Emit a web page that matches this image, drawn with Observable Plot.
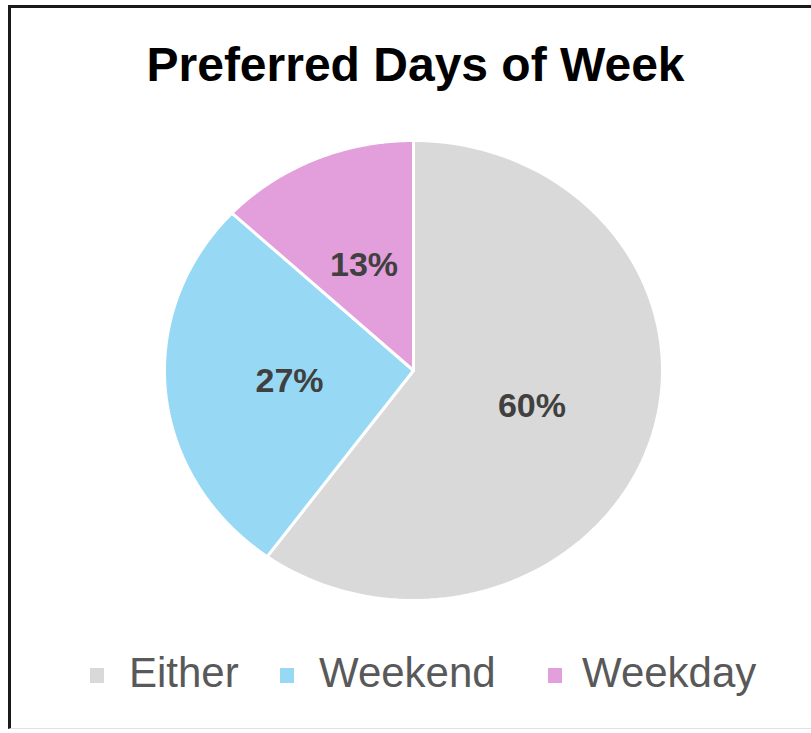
<!DOCTYPE html>
<html>
<head>
<meta charset="utf-8">
<script src="https://cdn.jsdelivr.net/npm/d3@7"></script>
<script src="https://cdn.jsdelivr.net/npm/@observablehq/plot@0.6"></script>
<style>
  html, body { margin: 0; padding: 0; background: #fff; }
  #frame { position: relative; width: 811px; height: 733px; overflow: hidden; background: #fff; }
  #border { position: absolute; left: 8px; top: 5px; right: -10px; bottom: 4px;
            border-left: 3px solid #1a1a1a; border-top: 3px solid #1a1a1a; border-bottom: 1px solid #e0e0e0; }
  #title { position: absolute; left: 0; width: 831px; top: 41px; text-align: center;
           font-family: "Liberation Sans", Arial, sans-serif; font-weight: bold; font-size: 48px;
           line-height: 48px; color: #000; }
  #chart { position: absolute; left: 0; top: 130px; }
  #legend { position: absolute; top: 651px; left: 0; width: 811px; height: 44px;
            font-family: "Liberation Sans", Arial, sans-serif; font-size: 42px; line-height: 44px; color: #595959; }
  .item { position: absolute; top: 0; white-space: nowrap; }
  .sw { position: absolute; width: 14px; height: 15px; top: 17px; }
</style>
</head>
<body>
<div id="frame">
  <div id="border"></div>
  <div id="title">Preferred Days of Week</div>
  <div id="chart"></div>
  <div id="legend"></div>
</div>
<script>
const categories = ["Either", "Weekend", "Weekday"];
const values = [60, 27, 13];
const labels = ["60%", "27%", "13%"];
const colors = ["#d9d9d9", "#97d9f4", "#e39edc"];

// Build slice polygons (clockwise from 12 o'clock)
const total = d3.sum(values);
const slicePts = [];
const labelPts = [];
let start = 0;
categories.forEach((c, i) => {
  const a0 = start / total * 2 * Math.PI;
  const a1 = (start + values[i]) / total * 2 * Math.PI;
  slicePts.push({cat: c, x: 0, y: 0});
  const n = 120;
  for (let k = 0; k <= n; k++) {
    const a = a0 + (a1 - a0) * k / n;
    slicePts.push({cat: c, x: Math.sin(a), y: Math.cos(a)});
  }
  slicePts.push({cat: c, x: 0, y: 0});
  const am = (a0 + a1) / 2;
  labelPts.push({cat: c, label: labels[i], x: 0.5 * Math.sin(am), y: 0.5 * Math.cos(am)});
  start += values[i];
});

const plot = Plot.plot({
  width: 811,
  height: 480,
  marginLeft: 164,
  marginRight: 149,
  marginTop: 10,
  marginBottom: 10,
  x: {domain: [-1, 1], axis: null},
  y: {domain: [-1, 1], axis: null},
  color: {domain: categories, range: colors},
  style: {background: "transparent"},
  marks: [
    Plot.line(slicePts, {x: "x", y: "y", z: "cat", fill: "cat", stroke: "#fff", strokeWidth: 3, strokeLinejoin: "miter"}),
    Plot.text(labelPts, {x: "x", y: "y", text: "label", fill: "#404040", fontSize: 34, fontWeight: "bold",
      fontFamily: "Liberation Sans, Arial, sans-serif"})
  ]
});
document.getElementById("chart").appendChild(plot);

// Legend
const legendPos = [[90, 129], [280, 319], [548, 582]];
const leg = document.getElementById("legend");
categories.forEach((c, i) => {
  const sw = document.createElement("div");
  sw.className = "sw";
  sw.style.left = legendPos[i][0] + "px";
  sw.style.background = colors[i];
  leg.appendChild(sw);
  const t = document.createElement("div");
  t.className = "item";
  t.style.left = legendPos[i][1] + "px";
  t.textContent = c;
  leg.appendChild(t);
});
</script>
</body>
</html>
